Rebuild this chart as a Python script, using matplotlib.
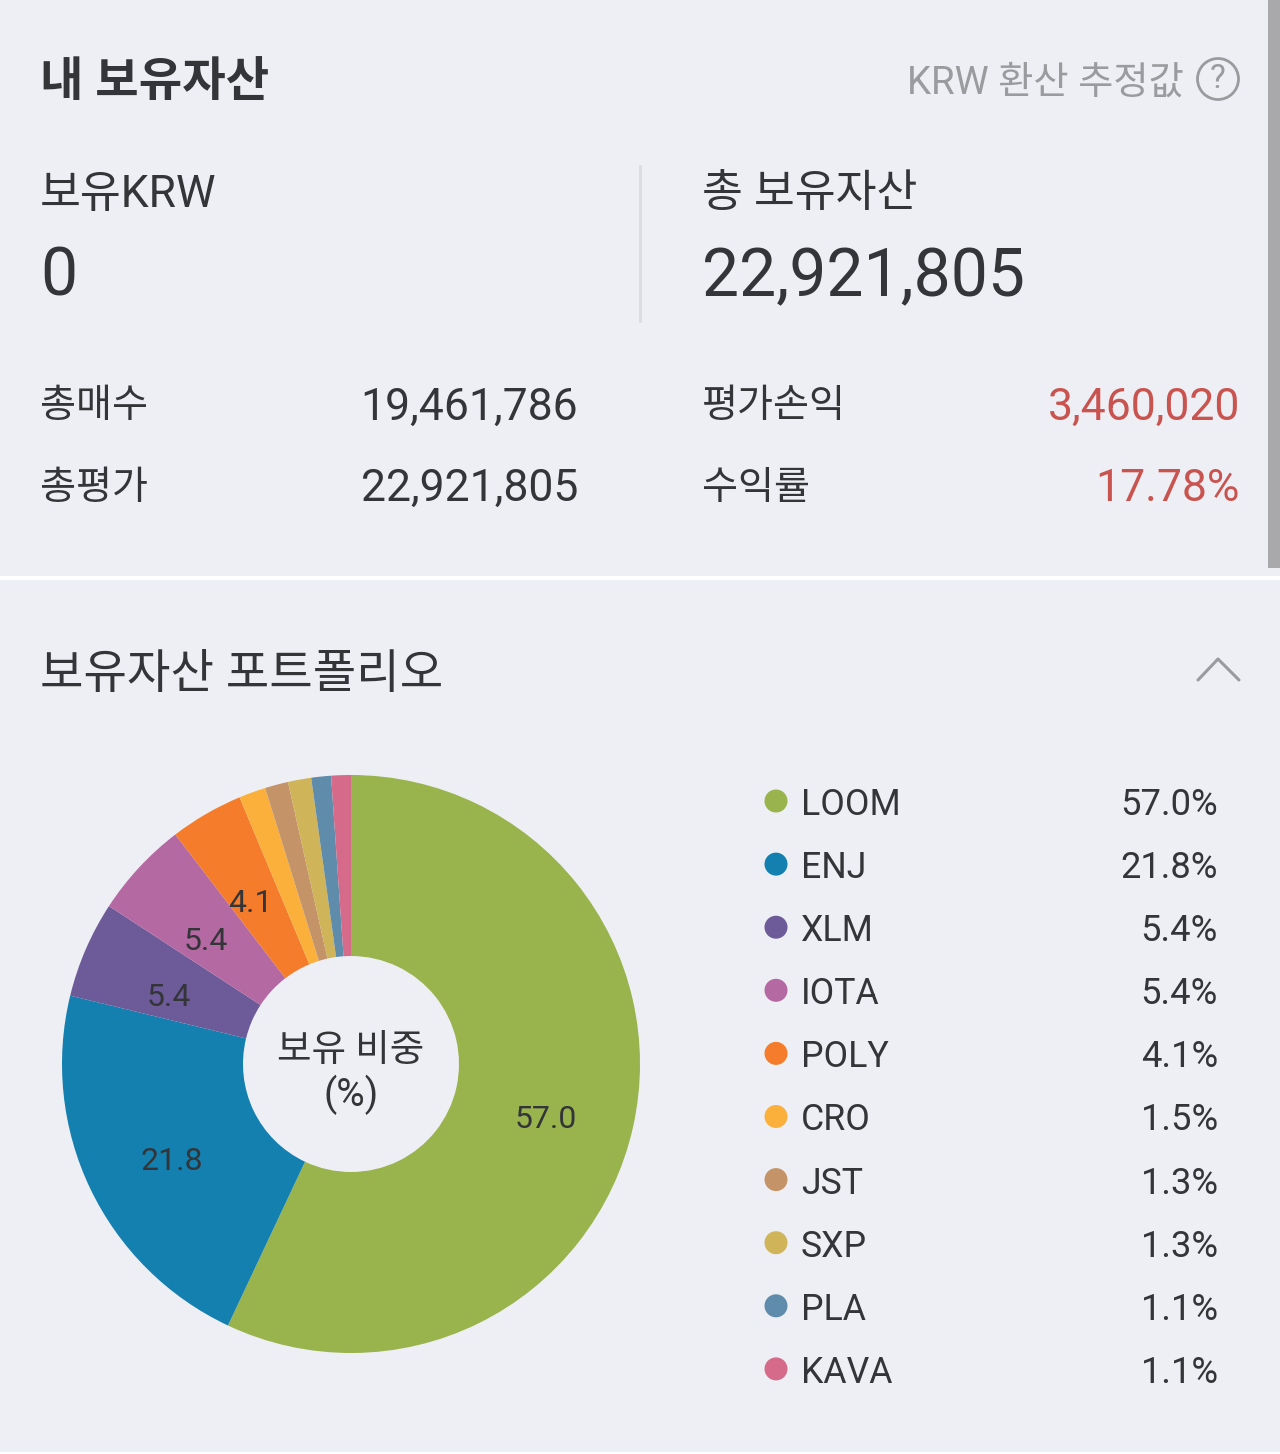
import matplotlib
matplotlib.use('Agg')
import matplotlib.pyplot as plt
from matplotlib.patches import Circle, Rectangle

plt.rcParams['font.family'] = ['Roboto', 'Noto Sans CJK KR', 'DejaVu Sans']

# data
coins = ['LOOM', 'ENJ', 'XLM', 'IOTA', 'POLY', 'CRO', 'JST', 'SXP', 'PLA', 'KAVA']
shares = [57.0, 21.8, 5.4, 5.4, 4.1, 1.5, 1.3, 1.3, 1.1, 1.1]
colors = ['#99b34d', '#1380b0', '#6d5a98', '#b569a3', '#f57c2a',
          '#fbb03b', '#c49468', '#cfb45a', '#5f8cab', '#d66a8a']
summary_left = [('총매수', '19,461,786'), ('총평가', '22,921,805')]
summary_right = [('평가손익', '3,460,020'), ('수익률', '17.78%')]

W, H = 1280, 1454
BG = '#eeeff4'
DARK = '#333538'
GREY = '#9a9b9e'
RED = '#c9534f'

fig = plt.figure(figsize=(W / 100, H / 100), dpi=100, facecolor=BG)

# page layer in pixel coordinates
ax = fig.add_axes([0, 0, 1, 1])
ax.set_xlim(0, W)
ax.set_ylim(H, 0)
ax.axis('off')

ax.add_patch(Rectangle((1268, 0), 12, 568, color='#a9a9ab', lw=0))
ax.add_patch(Rectangle((0, 576), W, 4, color='white', lw=0))
ax.add_patch(Rectangle((0, 1452), W, 2, color='white', lw=0))
ax.add_patch(Rectangle((638.5, 165), 3, 158, color='#dcdde2', lw=0))

ax.text(40, 83, '내 보유자산', fontsize=34, fontweight='bold', color=DARK, va='center')
ax.text(1184, 83, 'KRW 환산 추정값', fontsize=27.6, color=GREY, va='center', ha='right')
ax.add_patch(Circle((1218, 79), 20.5, fill=False, ec=GREY, lw=2))
ax.text(1218, 79, '?', fontsize=24, color=GREY, va='center', ha='center')

ax.text(40, 195, '보유KRW', fontsize=32, color=DARK, va='center')
ax.text(40, 278, '0', fontsize=47.5, color=DARK, va='center')
ax.text(702, 194, '총 보유자산', fontsize=32, color=DARK, va='center')
ax.text(702, 278, '22,921,805', fontsize=47.5, color=DARK, va='center')

for (label, value), y in zip(summary_left, [407, 488]):
    ax.text(40, y, label, fontsize=28.2, color=DARK, va='center')
    ax.text(578, y + 1, value, fontsize=32, color=DARK, va='center', ha='right')
for (label, value), y in zip(summary_right, [407, 488]):
    ax.text(702, y, label, fontsize=28.2, color=DARK, va='center')
    ax.text(1240, y + 1, value, fontsize=32, color=RED, va='center', ha='right')

ax.text(40, 675, '보유자산 포트폴리오', fontsize=34, color=DARK, va='center')
ax.plot([1198, 1218, 1239], [680, 659, 680], color=GREY, lw=2.2, solid_capstyle='round')

# legend rows
for i, (coin, share, col) in enumerate(zip(coins, shares, colors)):
    y = 804 + i * 63.1
    ax.add_patch(Circle((776, y - 3), 11.5, color=col, lw=0))
    ax.text(801, y + 1, coin, fontsize=25.7, color=DARK, va='center')
    ax.text(1218, y + 1, f'{share:.1f}%', fontsize=26.2, color=DARK, va='center', ha='right')

# donut, centre (351, 1064) radius 289 px
cx, cy, r = 351, 1064, 289
pie_ax = fig.add_axes([(cx - r) / W, 1 - (cy + r) / H, 2 * r / W, 2 * r / H])
pie_ax.pie(shares, colors=colors, startangle=90, counterclock=False, radius=1.0,
           wedgeprops=dict(width=1 - 108 / r, linewidth=0))
pie_ax.set_xlim(-1, 1)
pie_ax.set_ylim(-1, 1)
pie_ax.set_aspect('equal')

# slice labels, only the big slices carry one
label_pos = {0: (546, 1119), 1: (172, 1162), 2: (169, 997), 3: (206, 941), 4: (250, 904)}
for i, (x, y) in label_pos.items():
    ax.text(x, y, f'{shares[i]:.1f}', fontsize=23, color=DARK, va='center', ha='center', zorder=5)

ax.set_zorder(2)
ax.patch.set_visible(False)
ax.text(351, 1051, '보유 비중', fontsize=27, color=DARK, va='center', ha='center')
ax.text(351, 1095, '(%)', fontsize=28, color=DARK, va='center', ha='center')

fig.savefig('out.png', dpi=100, facecolor=BG)
